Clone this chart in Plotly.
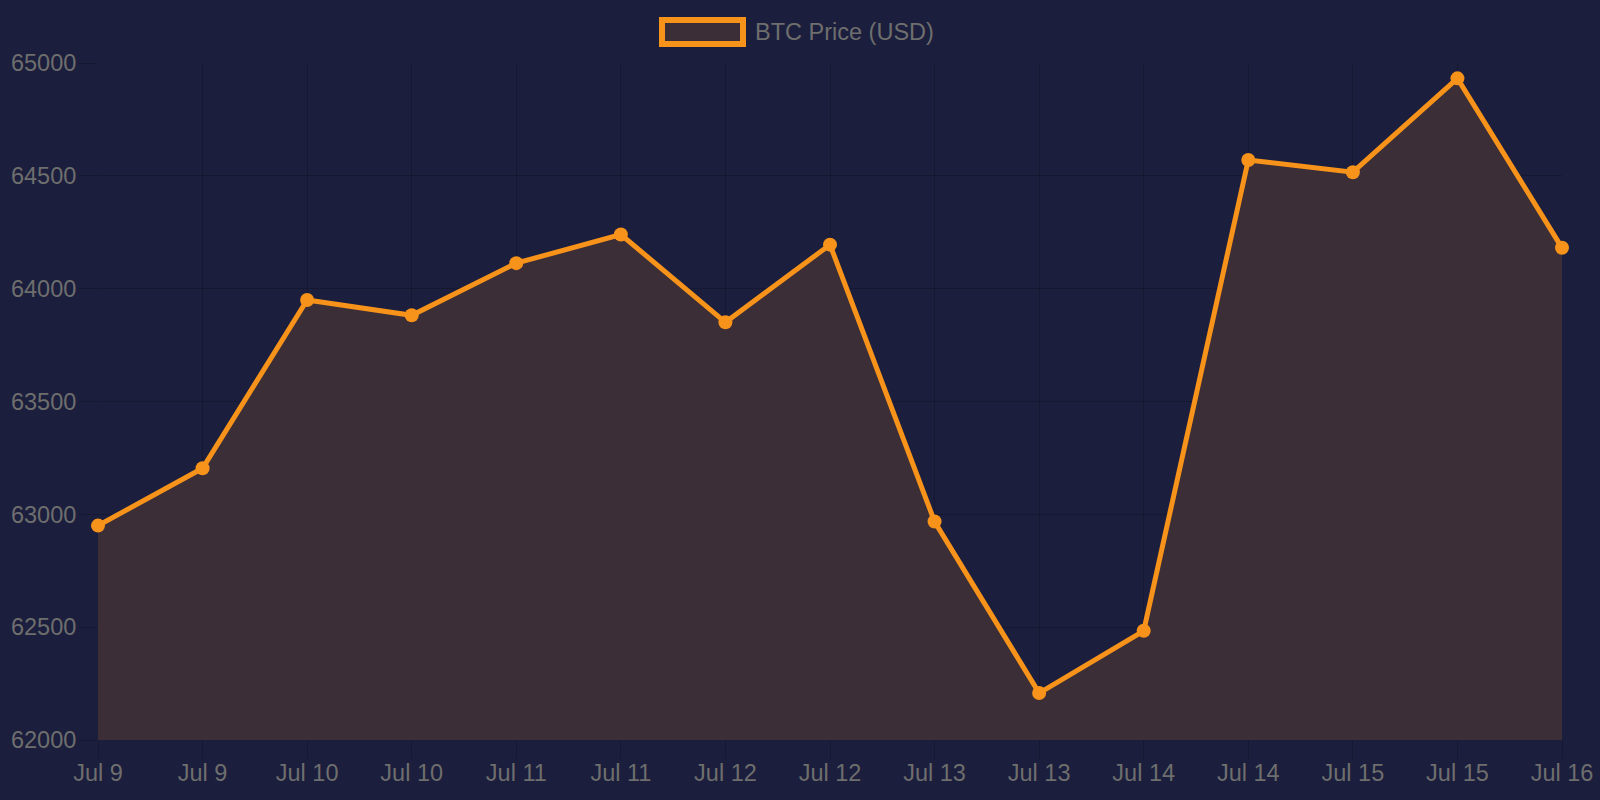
import plotly.graph_objects as go

labels = ["Jul 9", "Jul 9", "Jul 10", "Jul 10", "Jul 11", "Jul 11", "Jul 12", "Jul 12",
          "Jul 13", "Jul 13", "Jul 14", "Jul 14", "Jul 15", "Jul 15", "Jul 16"]
prices = [62950, 63204, 63950, 63882, 64113, 64240, 63851, 64195,
          62968, 62208, 62484, 64570, 64516, 64932, 64181]
y_ticks = [62000, 62500, 63000, 63500, 64000, 64500, 65000]
series_name = "BTC Price (USD)"

BG = "#1b1e3c"
ORANGE = "#f7931a"
FILL = "#3b2e36"
TEXT = "#6e6e6e"
GRID = "rgba(0,0,0,0.18)"
FONT = "Liberation Sans, Arial, sans-serif"
FS = 23.5

ML, MR, MT, MB = 98, 38, 63, 60
PW, PH = 1600 - ML - MR, 800 - MT - MB

x = list(range(len(labels)))

fig = go.Figure()
fig.add_trace(go.Scatter(
    x=x, y=prices, name=series_name, mode="lines+markers",
    line=dict(color=ORANGE, width=5),
    marker=dict(color=ORANGE, size=14),
    fill="tozeroy", fillcolor=FILL,
    cliponaxis=False,
    showlegend=False,
))

# legend imitation (Chart.js style box)
fig.add_shape(type="rect", xref="paper", yref="paper",
              x0=(662 - ML) / PW, x1=(743 - ML) / PW,
              y0=(800 - MB - 44) / PH, y1=(800 - MB - 20) / PH,
              line=dict(color=ORANGE, width=6), fillcolor=FILL)
fig.add_annotation(text=series_name, xref="paper", yref="paper",
                   x=(753 - ML) / PW, y=(800 - MB - 32) / PH,
                   xanchor="left", yanchor="middle", showarrow=False,
                   font=dict(family=FONT, size=FS, color=TEXT))

fig.update_layout(
    width=1600, height=800,
    paper_bgcolor=BG, plot_bgcolor=BG,
    margin=dict(l=ML, r=MR, t=MT, b=MB, autoexpand=False),
    font=dict(family=FONT, size=FS, color=TEXT),
    xaxis=dict(
        tickmode="array", tickvals=x, ticktext=labels,
        range=[0, len(labels) - 1],
        automargin=False,
        showgrid=True, gridcolor=GRID, gridwidth=1,
        ticks="outside", ticklen=18, tickcolor=GRID,
        ticklabelstandoff=-6,
        zeroline=False, showline=False,
        tickfont=dict(family=FONT, size=FS, color=TEXT),
    ),
    yaxis=dict(
        tickmode="array", tickvals=y_ticks, ticktext=[str(v) for v in y_ticks],
        range=[62000, 65000],
        automargin=False,
        showgrid=True, gridcolor=GRID, gridwidth=1,
        ticks="outside", ticklen=18, tickcolor=GRID,
        ticklabelstandoff=-2,
        zeroline=False, showline=False,
        tickfont=dict(family=FONT, size=FS, color=TEXT),
    ),
)

fig.write_html("out.html")
